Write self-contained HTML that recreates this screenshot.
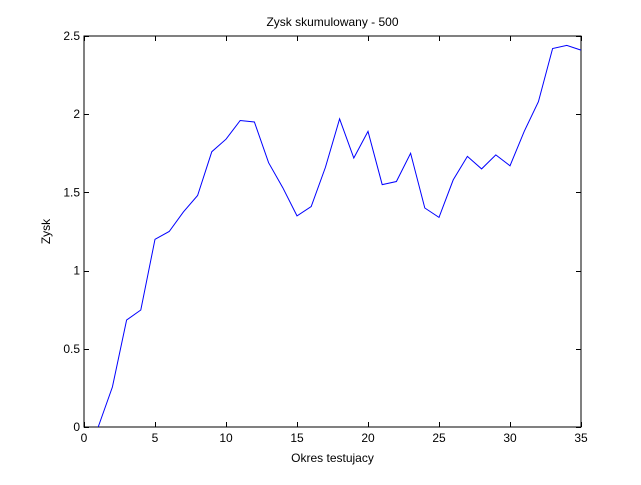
<!DOCTYPE html>
<html><head><meta charset="utf-8"><style>
body{margin:0;background:#fff;width:641px;height:480px;overflow:hidden}
svg text{font-family:"Liberation Sans",sans-serif;font-size:12px;fill:#000}
</style></head><body>
<svg id="chart" width="641" height="480"></svg>
<script>
const xValues=[1,2,3,4,5,6,7,8,9,10,11,12,13,14,15,16,17,18,19,20,21,22,23,24,25,26,27,28,29,30,31,32,33,34,35];
const yValues=[0,0.256,0.684,0.748,1.20,1.25,1.375,1.48,1.76,1.84,1.96,1.95,1.69,1.53,1.35,1.41,1.66,1.97,1.72,1.89,1.55,1.57,1.75,1.40,1.34,1.58,1.73,1.65,1.74,1.67,1.89,2.08,2.42,2.44,2.41];
const xTicks=[0,5,10,15,20,25,30,35];
const yTicks=[0,0.5,1,1.5,2,2.5];
const yTickLabels=["0","0.5","1","1.5","2","2.5"];
const L=84,R=581,T=36,B=427;
const sx=v=>L+(v-0)/(35-0)*(R-L);
const sy=v=>B-(v-0)/(2.5-0)*(B-T);
const svg=document.getElementById('chart');
const NS='http://www.w3.org/2000/svg';
function mk(tag,attrs,parent){const e=document.createElementNS(NS,tag);for(const k in attrs)e.setAttribute(k,attrs[k]);(parent||svg).appendChild(e);return e;}
const box=mk('rect',{x:L,y:T,width:R-L,height:B-T,fill:'#fff',stroke:'#000','stroke-width':1});


xTicks.forEach(v=>{const x=Math.round(sx(v))+0.5;
 const t1=mk('line',{x1:x,x2:x,y1:B,y2:B-5,stroke:'#000'});
 
 
 const t2=mk('line',{x1:x,x2:x,y1:T,y2:T+5,stroke:'#000'});
 
 
 const lb=mk('text',{x:sx(v),y:B+15,'text-anchor':'middle'});lb.textContent=String(v);
 
 
});
yTicks.forEach((v,i)=>{const y=Math.round(sy(v))+0.5;
 const t1=mk('line',{x1:L,x2:L+5,y1:y,y2:y,stroke:'#000'});
 
 
 const t2=mk('line',{x1:R,x2:R-5,y1:y,y2:y,stroke:'#000'});
 
 
 const lb=mk('text',{x:L-4,y:sy(v)+4,'text-anchor':'end'});lb.textContent=yTickLabels[i];
 
 
});
const pts=xValues.map((x,i)=>sx(x).toFixed(1)+','+sy(yValues[i]).toFixed(1)).join(' ');
const line=mk('polyline',{points:pts,fill:'none',stroke:'#0000ff','stroke-width':1});


const title=mk('text',{x:(L+R)/2,y:26,'text-anchor':'middle'});title.textContent='Zysk skumulowany - 500';


const xl=mk('text',{x:(L+R)/2,y:462,'text-anchor':'middle'});xl.textContent='Okres testujacy';


const yl=mk('text',{x:0,y:0,'text-anchor':'middle',transform:'translate(50,'+((T+B)/2)+') rotate(-90)'});yl.textContent='Zysk';


</script>
</body></html>
